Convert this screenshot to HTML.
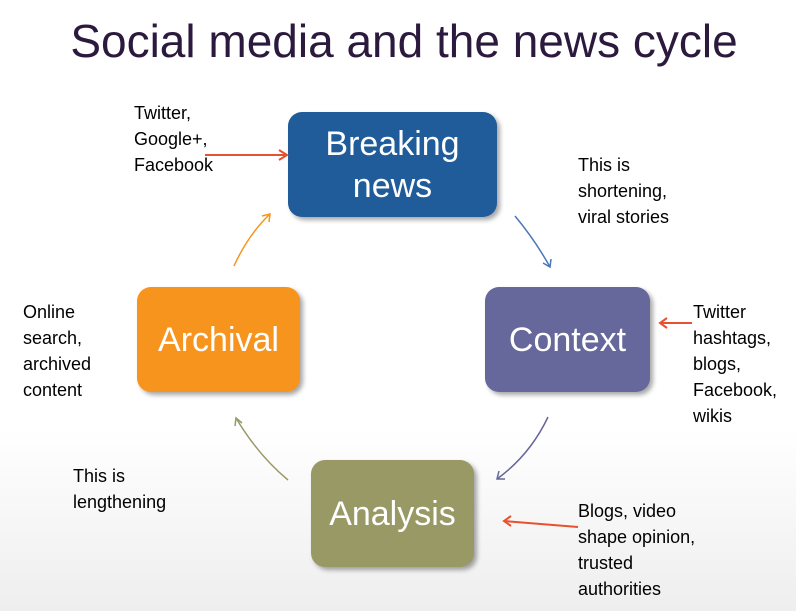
<!DOCTYPE html>
<html><head><style>
body{margin:0;width:796px;height:611px;overflow:hidden;background:linear-gradient(#fff 70%,#eeeeee);font-family:"Liberation Sans",sans-serif;position:relative}
.t{position:absolute;font-size:18px;line-height:26px;color:#000}
.b{position:absolute;border-radius:14px;color:#fff;display:flex;align-items:center;justify-content:center;text-align:center;font-size:34px;line-height:42px;box-shadow:3px 3px 5px rgba(0,0,0,.35)}
</style></head><body>
<div style="position:absolute;left:0;width:808px;top:14px;text-align:center;font-size:46px;color:#2b1a3d">Social media and the news cycle</div>
<div class="b" style="left:288px;top:112px;width:209px;height:105px;background:#1f5c99">Breaking<br>news</div>
<div class="b" style="left:485px;top:287px;width:165px;height:105px;background:#66679a">Context</div>
<div class="b" style="left:137px;top:287px;width:163px;height:105px;background:#f7941d">Archival</div>
<div class="b" style="left:311px;top:460px;width:163px;height:107px;background:#999966">Analysis</div>
<div class="t" style="left:134px;top:100px">Twitter,<br>Google+,<br>Facebook</div>
<div class="t" style="left:578px;top:152px">This is<br>shortening,<br>viral stories</div>
<div class="t" style="left:693px;top:299px">Twitter<br>hashtags,<br>blogs,<br>Facebook,<br>wikis</div>
<div class="t" style="left:23px;top:299px">Online<br>search,<br>archived<br>content</div>
<div class="t" style="left:73px;top:463px">This is<br>lengthening</div>
<div class="t" style="left:578px;top:498px">Blogs, video<br>shape opinion,<br>trusted<br>authorities</div>
<svg width="796" height="611" style="position:absolute;left:0;top:0" fill="none">
<g stroke-width="1.5">
<path d="M234 266 Q248 235 270 214" stroke="#f7941d"/><path d="M262 216 L270 214 L269 222" stroke="#f7941d"/>
<path d="M515 216 Q535 240 550 267" stroke="#4a78b8"/><path d="M543 263 L550 267 L551 259" stroke="#4a78b8"/>
<path d="M548 417 Q530 455 497 479" stroke="#66679a"/><path d="M499 471 L497 479 L505 479" stroke="#66679a"/>
<path d="M288 480 Q258 455 236 418" stroke="#999966"/><path d="M235 426 L236 418 L242 423" stroke="#999966"/>
</g>
<g stroke="#e8502e" stroke-width="2">
<path d="M205 155 L287 155"/><path d="M279 150 L287 155 L279 160"/>
<path d="M692 323 L660 323"/><path d="M667 318 L660 323 L667 328"/>
<path d="M578 527 L504 521"/><path d="M511 516 L504 521 L511 526"/>
</g>
</svg>
</body></html>
